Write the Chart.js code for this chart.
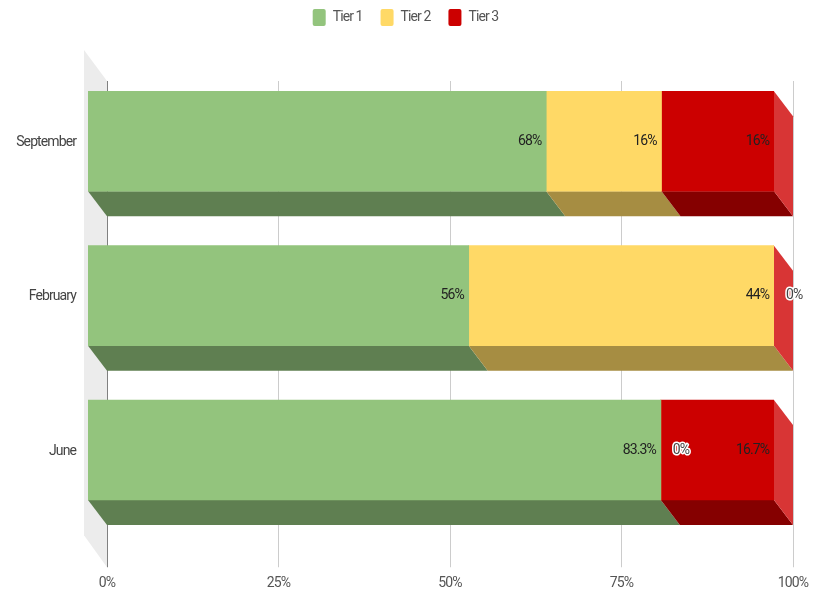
<!DOCTYPE html>
<html>
<head>
  <title>Tiers by month</title>
  <script src="https://cdn.jsdelivr.net/npm/chart.js"></script>
  <style>
    body { margin: 0; background: #fff; }
    canvas { display: block; }
  </style>
</head>
<body>
  <canvas id="tierChart" width="821" height="591"></canvas>
  <script>
    const months = ['September', 'February', 'June'];
    const tier1 = [66.8, 55.5, 83.5];
    const tier2 = [16.8, 44.5, 0];
    const tier3 = [16.4, 0, 16.5];
    const tier1Labels = ['68%', '56%', '83.3%'];
    const tier2Labels = ['16%', '44%', '0%'];
    const tier3Labels = ['16%', '0%', '16.7%'];
    const tierNames = ['Tier 1', 'Tier 2', 'Tier 3'];
    const xTicks = [0, 25, 50, 75, 100];

    const frontColors = ['#93c47d', '#ffd966', '#cc0000'];
    const bottomColors = ['#5f7f51', '#a68d42', '#850000'];
    const sideColor = '#d83535';
    const valueLabels = [tier1Labels, tier2Labels, tier3Labels];

    // how far the back plane sits behind the bars
    const depthX = 19;
    const depthY = 25;
    const squeeze = '-0.9px';

    const fakeDepth = {
      id: 'fakeDepth',
      beforeUpdate(chart) { chart.ctx.letterSpacing = squeeze; },
      beforeDraw(chart) { chart.ctx.letterSpacing = squeeze; },
      // category labels are wider than the axis box, stop them being clipped
      afterLayout(chart) { chart.scales.y.left = 0; },
      beforeDatasetsDraw(chart) {
        const c = chart.ctx;
        const area = chart.chartArea;
        const x = chart.scales.x;
        const top = area.top + 17;
        const bottom = area.bottom + 40;
        const zero = x.getPixelForValue(0) + depthX;
        c.save();
        c.fillStyle = '#ececec';
        c.beginPath();
        c.moveTo(area.left - 4, top - 31);
        c.lineTo(zero, top);
        c.lineTo(zero, bottom);
        c.lineTo(area.left - 4, bottom - 32);
        c.closePath();
        c.fill();
        xTicks.forEach(t => {
          const px = Math.floor(x.getPixelForValue(t) + depthX) + 0.5;
          c.strokeStyle = t === 0 ? '#808080' : '#cccccc';
          c.lineWidth = 1;
          c.beginPath();
          c.moveTo(px, top);
          c.lineTo(px, bottom);
          c.stroke();
        });
        c.restore();
        // bottom and end faces go under the front faces
        c.save();
        chart.data.datasets.forEach((ds, d) => {
          chart.getDatasetMeta(d).data.forEach((bar, i) => {
            if (ds.data[i] === 0) return;
            const y = bar.y + bar.height / 2;
            c.fillStyle = bottomColors[d];
            c.beginPath();
            c.moveTo(bar.base, y);
            c.lineTo(bar.x, y);
            c.lineTo(bar.x + depthX, y + depthY);
            c.lineTo(bar.base + depthX, y + depthY);
            c.closePath();
            c.fill();
          });
        });
        const last = chart.getDatasetMeta(chart.data.datasets.length - 1).data;
        last.forEach(bar => {
          const t = bar.y - bar.height / 2;
          const b = bar.y + bar.height / 2;
          c.fillStyle = sideColor;
          c.beginPath();
          c.moveTo(bar.x, t);
          c.lineTo(bar.x + depthX, t + depthY);
          c.lineTo(bar.x + depthX, b + depthY);
          c.lineTo(bar.x, b);
          c.closePath();
          c.fill();
        });
        c.restore();
      },
      afterDatasetsDraw(chart) {
        const c = chart.ctx;
        c.save();
        c.font = '14px Roboto';
        c.textBaseline = 'middle';
        c.lineJoin = 'round';
        chart.data.datasets.forEach((ds, d) => {
          chart.getDatasetMeta(d).data.forEach((bar, i) => {
            const text = valueLabels[d][i];
            if (ds.data[i] === 0) {
              c.textAlign = 'left';
              c.lineWidth = 3;
              c.strokeStyle = '#ffffff';
              c.strokeText(text, bar.x + 12, bar.y);
              c.fillStyle = '#444444';
              c.fillText(text, bar.x + 12, bar.y);
            } else {
              c.textAlign = 'right';
              c.fillStyle = '#222222';
              c.fillText(text, bar.x - 5, bar.y);
            }
          });
        });
        c.restore();
      }
    };

    const chart = new Chart(document.getElementById('tierChart').getContext('2d'), {
      type: 'bar',
      data: {
        labels: months,
        datasets: [
          { label: tierNames[0], data: tier1, backgroundColor: frontColors[0], barThickness: 100 },
          { label: tierNames[1], data: tier2, backgroundColor: frontColors[1], barThickness: 100 },
          { label: tierNames[2], data: tier3, backgroundColor: frontColors[2], barThickness: 100 }
        ]
      },
      options: {
        indexAxis: 'y',
        responsive: false,
        animation: false,
        layout: { padding: { top: -9, left: 37, right: 47, bottom: 0 } },
        font: { family: 'Roboto' },
        scales: {
          x: {
            stacked: true,
            min: 0,
            max: 100,
            grid: { display: false, drawTicks: true, tickLength: 48 },
            border: { display: false },
            afterFit: s => { s.height = 63.75; },
            afterBuildTicks: s => { s.ticks = xTicks.map(v => ({ value: v })); },
            ticks: {
              maxRotation: 0,
              autoSkip: false,
              labelOffset: depthX,
              padding: 0,
              color: '#555555',
              font: { family: 'Roboto', size: 14 },
              callback: v => v + '%'
            }
          },
          y: {
            stacked: true,
            grid: { display: false, drawTicks: false },
            border: { display: false },
            afterFit: s => { s.width = 51; },
            ticks: {
              padding: 12,
              labelOffset: 1,
              color: '#444444',
              font: { family: 'Roboto', size: 14 }
            }
          }
        },
        plugins: {
          legend: {
            position: 'top',
            labels: {
              boxWidth: 13,
              boxHeight: 17,
              padding: 18,
              useBorderRadius: true,
              borderRadius: 2,
              color: '#555555',
              font: { family: 'Roboto', size: 14 }
            }
          },
          // empty block under the legend, pushes the plot down
          title: {
            display: true,
            text: '',
            weight: 500,
            font: { size: 1, lineHeight: 1 },
            padding: { top: 0, bottom: 27 }
          },
          tooltip: { enabled: false }
        }
      },
      plugins: [fakeDepth]
    });
  </script>
</body>
</html>
